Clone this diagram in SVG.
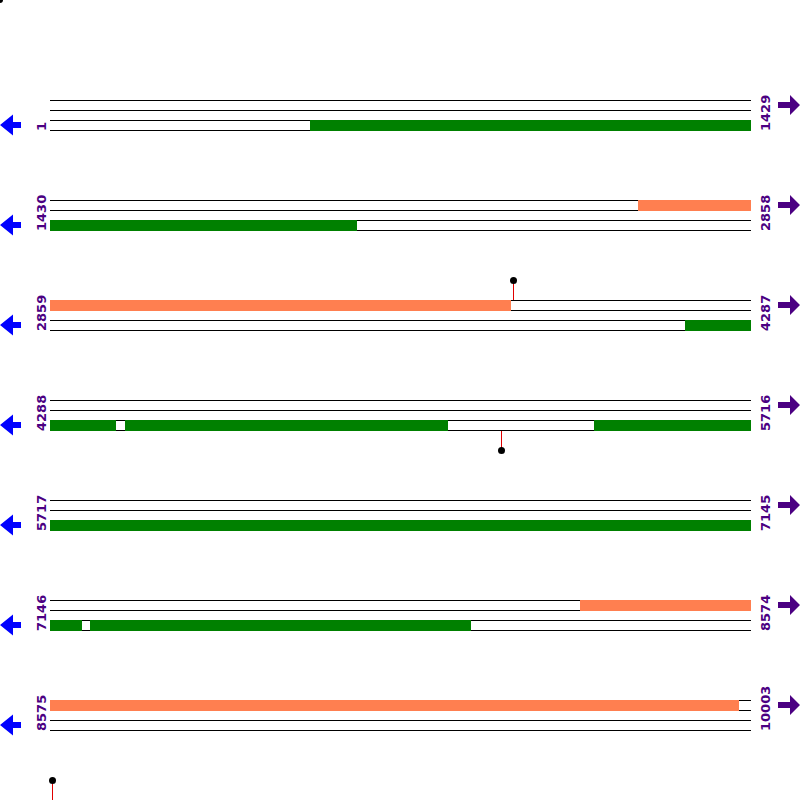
<svg xmlns="http://www.w3.org/2000/svg" width="800" height="800" viewBox="0 0 800 800">
<defs>
<style>
.ln{stroke:#000;stroke-width:1;fill:none}
.g{fill:#008000}
.o{fill:#FF7F50}
.lbl{font-family:"DejaVu Sans",Verdana,sans-serif;font-size:13px;font-weight:bold;fill:#4B0082}
.la{fill:#0000FF}
.ra{fill:#4B0082}
.pin{stroke:#E00000;stroke-width:1}
.dot{fill:#000}
</style>
<g id="larrow"><polygon points="0,0 13,-10.5 13,-3 21,-3 21,3 13,3 13,10.5"/></g>
<g id="rarrow"><polygon points="0,-3 12,-3 12,-10 22,0 12,10 12,3 0,3"/></g>
<g id="lines"><path d="M50,100.5H751M50,110.5H751M50,120.5H751M50,130.5H751"/></g>
</defs>
<rect width="800" height="800" fill="#fff"/>
<circle class="dot" cx="0" cy="0" r="3"/>
<g id="row1">
<use href="#lines" class="ln"/>
<rect class="g" x="310" y="120" width="441" height="11"/>
<text class="lbl" transform="translate(46,131) rotate(-90)">1</text>
<text class="lbl" transform="translate(770,131) rotate(-90)">1429</text>
<use href="#larrow" class="la" x="0" y="125"/>
<use href="#rarrow" class="ra" x="778" y="105"/>
</g>
<g id="row2" transform="translate(0,100)">
<use href="#lines" class="ln"/>
<rect class="o" x="638" y="100" width="113" height="11"/>
<rect class="g" x="50" y="120" width="307" height="11"/>
<text class="lbl" transform="translate(46,131) rotate(-90)">1430</text>
<text class="lbl" transform="translate(770,131) rotate(-90)">2858</text>
<use href="#larrow" class="la" x="0" y="125"/>
<use href="#rarrow" class="ra" x="778" y="105"/>
</g>
<g id="row3" transform="translate(0,200)">
<use href="#lines" class="ln"/>
<rect class="o" x="50" y="100" width="461" height="11"/>
<rect class="g" x="685" y="120" width="66" height="11"/>
<text class="lbl" transform="translate(46,131) rotate(-90)">2859</text>
<text class="lbl" transform="translate(770,131) rotate(-90)">4287</text>
<use href="#larrow" class="la" x="0" y="125"/>
<use href="#rarrow" class="ra" x="778" y="105"/>
</g>
<g id="row4" transform="translate(0,300)">
<use href="#lines" class="ln"/>
<rect class="g" x="50" y="120" width="66" height="11"/>
<rect class="g" x="125" y="120" width="323" height="11"/>
<rect class="g" x="594" y="120" width="157" height="11"/>
<text class="lbl" transform="translate(46,131) rotate(-90)">4288</text>
<text class="lbl" transform="translate(770,131) rotate(-90)">5716</text>
<use href="#larrow" class="la" x="0" y="125"/>
<use href="#rarrow" class="ra" x="778" y="105"/>
</g>
<g id="row5" transform="translate(0,400)">
<use href="#lines" class="ln"/>
<rect class="g" x="50" y="120" width="701" height="11"/>
<text class="lbl" transform="translate(46,131) rotate(-90)">5717</text>
<text class="lbl" transform="translate(770,131) rotate(-90)">7145</text>
<use href="#larrow" class="la" x="0" y="125"/>
<use href="#rarrow" class="ra" x="778" y="105"/>
</g>
<g id="row6" transform="translate(0,500)">
<use href="#lines" class="ln"/>
<rect class="o" x="580" y="100" width="171" height="11"/>
<rect class="g" x="50" y="120" width="32" height="11"/>
<rect class="g" x="90" y="120" width="381" height="11"/>
<text class="lbl" transform="translate(46,131) rotate(-90)">7146</text>
<text class="lbl" transform="translate(770,131) rotate(-90)">8574</text>
<use href="#larrow" class="la" x="0" y="125"/>
<use href="#rarrow" class="ra" x="778" y="105"/>
</g>
<g id="row7" transform="translate(0,600)">
<use href="#lines" class="ln"/>
<rect class="o" x="50" y="100" width="689" height="11"/>
<text class="lbl" transform="translate(46,131) rotate(-90)">8575</text>
<text class="lbl" transform="translate(770,131) rotate(-90)">10003</text>
<use href="#larrow" class="la" x="0" y="125"/>
<use href="#rarrow" class="ra" x="778" y="105"/>
</g>
<g id="connectors">
<line class="pin" x1="513.5" y1="283" x2="513.5" y2="300"/>
<circle class="dot" cx="513.5" cy="280.5" r="3.5"/>
<line class="pin" x1="501.5" y1="431" x2="501.5" y2="448"/>
<circle class="dot" cx="501.5" cy="450.5" r="3.5"/>
<line class="pin" x1="52.5" y1="783" x2="52.5" y2="800"/>
<circle class="dot" cx="52.5" cy="780.5" r="3.5"/>
</g>
</svg>
